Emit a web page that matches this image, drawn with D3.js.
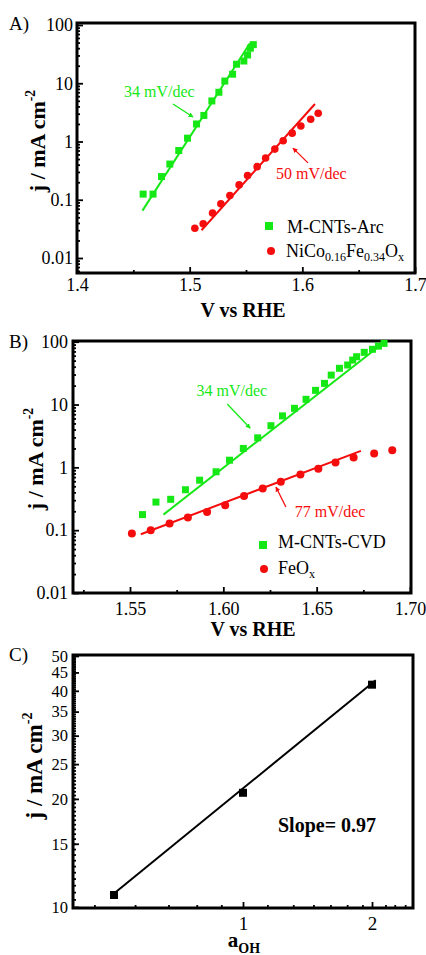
<!DOCTYPE html>
<html lang="en">
<head>
<meta charset="UTF-8">
<title>Tafel plots</title>
<script src="https://d3js.org/d3.v7.min.js"></script>
<style>
  body { margin: 0; background: #fff; }
  svg text { font-family: "Liberation Serif", "Times New Roman", serif; }
</style>
</head>
<body>
<svg id="main" width="426" height="955"></svg>
<script>
// ---- panel A data
const aArcV = [1.4587, 1.4675, 1.4750, 1.4824, 1.4903, 1.4981, 1.5061, 1.5126, 1.5197, 1.5259, 1.5312, 1.5381, 1.5416, 1.5481, 1.5514, 1.5539, 1.5565];
const aArcJ = [0.125, 0.125, 0.25, 0.41, 0.70, 1.14, 2.0, 2.8, 4.97, 7.0, 10.9, 14.3, 21.2, 24.1, 30.6, 40, 46];
const aNiV = [1.5046, 1.5120, 1.5203, 1.5277, 1.5357, 1.5439, 1.5514, 1.5599, 1.5674, 1.5756, 1.5830, 1.5910, 1.5987, 1.6074, 1.6141];
const aNiJ = [0.0325, 0.0386, 0.059, 0.085, 0.118, 0.18, 0.26, 0.37, 0.52, 0.74, 1.03, 1.39, 1.85, 2.41, 3.05];
const aArcFitV = [1.4581, 1.5535], aArcFitJ = [0.065, 48.5];
const aNiFitV = [1.5105, 1.6112], aNiFitJ = [0.030, 4.4];
const aXTicks = [1.4, 1.5, 1.6, 1.7];
const aXMinor = [1.45, 1.55, 1.65];

// ---- panel B data
const bCvdV = [1.5567, 1.5639, 1.5718, 1.5797, 1.5873, 1.5961, 1.6033, 1.6107, 1.6184, 1.6255, 1.6317, 1.6381, 1.6443, 1.6494, 1.6542, 1.6578, 1.6622, 1.6666, 1.6693, 1.6714, 1.6755, 1.6799, 1.6831, 1.6861];
const bCvdJ = [0.177, 0.28, 0.31, 0.44, 0.625, 0.85, 1.30, 2.0, 2.95, 4.6, 6.6, 8.7, 12.1, 16.8, 21.7, 29.4, 37.7, 42.6, 51, 57.7, 67.7, 75.7, 85, 94];
const bFeV = [1.5510, 1.5611, 1.5712, 1.5810, 1.5913, 1.6010, 1.6111, 1.6211, 1.6308, 1.6413, 1.6509, 1.6601, 1.6698, 1.6808, 1.6905];
const bFeJ = [0.0883, 0.0998, 0.128, 0.159, 0.195, 0.25, 0.35, 0.46, 0.59, 0.77, 0.95, 1.20, 1.44, 1.66, 1.88];
const bCvdFitV = [1.5679, 1.6866], bCvdFitJ = [0.177, 100];
const bFeFitV = [1.5558, 1.6737], bFeFitJ = [0.086, 1.83];
const bXTicks = [1.55, 1.60, 1.65, 1.70];
const bXMinor = [1.525, 1.575, 1.625, 1.675];

// log axes of A and B
const jTicks = [0.01, 0.1, 1, 10, 100];
const jLabels = ['0.01', '0.1', '1', '10', '100'];

// ---- panel C data
const cAoh = [0.5, 1, 2];
const cJ = [10.8, 20.8, 41.6];
const cFitAoh = [0.5, 2.04], cFitJ = [10.9, 42.8];
const cXTicks = [1, 2];
const cXMinor = [0.45, 0.56, 0.67, 0.78, 0.89, 1.14, 1.31, 1.46, 1.6, 1.75, 1.9, 2.15, 2.26, 2.39];
const cYTicks = [10, 15, 20, 25, 30, 35, 40, 45, 50];

const green = '#15e815', red = '#f50d0d';
const svg = d3.select('#main');

function logMinor(lo, hi) {
  let out = [];
  for (let p = lo; p < hi; p++)
    for (let k = 2; k <= 9; k++) out.push(k * Math.pow(10, p));
  return out;
}

function panel(box, x, y, o) {
  const g = svg.append('g');
  const tick = (axis, size, vals, fmt, pad) => axis.tickValues(vals).tickFormat(fmt).tickSize(size).tickPadding(pad);
  // only keep minor ticks that fall inside the frame
  const yMinor = o.yMinor.filter(d => y(d) > box.t + 2 && y(d) < box.b - 2);
  const xMinor = o.xMinor.filter(d => x(d) > box.l + 2 && x(d) < box.r - 2);

  g.append('g').attr('transform', `translate(${box.l},0)`)
    .call(d3.axisLeft(y).tickValues(yMinor).tickFormat('').tickSize(-3))
    .call(a => a.select('.domain').remove());
  g.append('g').attr('transform', `translate(0,${box.b})`)
    .call(d3.axisBottom(x).tickValues(xMinor).tickFormat('').tickSize(-3))
    .call(a => a.select('.domain').remove());
  // major ticks
  g.append('g').attr('transform', `translate(${box.l},0)`)
    .call(tick(d3.axisLeft(y), -6, o.yTicks, o.yFmt, o.yPad))
    .call(a => a.select('.domain').remove())
    .attr('font-size', o.yFs || o.tickFs).attr('font-family', null);
  g.append('g').attr('transform', `translate(0,${box.b})`)
    .call(tick(d3.axisBottom(x), -6, o.xTicks, o.xFmt, o.xPad))
    .call(a => a.select('.domain').remove())
    .attr('font-size', o.tickFs).attr('font-family', null);
  g.selectAll('.tick line').attr('stroke-width', 1.8);
  g.selectAll('.tick text').attr('fill', '#000');

  g.append('rect')
    .attr('x', box.l).attr('y', box.t)
    .attr('width', box.r - box.l).attr('height', box.b - box.t)
    .attr('fill', 'none').attr('stroke', '#000').attr('stroke-width', 3);
  return g;
}

function yTitle(g, tx, ty, fs) {
  const t = g.append('text')
    .attr('transform', `translate(${tx},${ty}) rotate(-90)`)
    .attr('text-anchor', 'middle')
    .attr('font-size', fs).attr('font-weight', 'bold');
  t.append('tspan').text('j / mA cm');
  t.append('tspan').attr('font-size', fs * 0.62).attr('dy', -fs * 0.45).text('-2');
}

function xTitle(g, tx, ty) {
  g.append('text').attr('x', tx).attr('y', ty)
    .attr('text-anchor', 'middle')
    .attr('font-size', 20).attr('font-weight', 'bold')
    .text('V vs RHE');
}

function squares(g, x, y, xs, ys, color, size) {
  g.selectAll(null).data(xs).join('rect')
    .attr('x', (d, i) => x(d) - size / 2)
    .attr('y', (d, i) => y(ys[i]) - size / 2)
    .attr('width', size).attr('height', size)
    .attr('fill', color);
}

function circles(g, x, y, xs, ys, color, r) {
  g.selectAll(null).data(xs).join('circle')
    .attr('cx', d => x(d))
    .attr('cy', (d, i) => y(ys[i]))
    .attr('r', r).attr('fill', color);
}

function fit(g, x, y, xs, ys, color, w) {
  const line = d3.line().x(d => x(d[0])).y(d => y(d[1]));
  g.append('path').datum(d3.zip(xs, ys))
    .attr('d', line).attr('fill', 'none')
    .attr('stroke', color).attr('stroke-width', w);
}

const defs = svg.append('defs');
[['g', green], ['r', red]].forEach(([id, c]) => {
  defs.append('marker').attr('id', 'arrow-' + id)
    .attr('viewBox', '0 0 10 10').attr('refX', 9).attr('refY', 5)
    .attr('markerWidth', 5).attr('markerHeight', 5)
    .attr('markerUnits', 'userSpaceOnUse')
    .attr('orient', 'auto')
    .append('path').attr('d', 'M0,0L10,5L0,10z').attr('fill', c);
});

function note(g, x, y, text, at, from, to, color, id) {
  g.append('text').attr('x', x(at[0])).attr('y', y(at[1]))
    .attr('font-size', 16).attr('fill', color).text(text);
  g.append('line')
    .attr('x1', x(from[0])).attr('y1', y(from[1]))
    .attr('x2', x(to[0])).attr('y2', y(to[1]))
    .attr('stroke', color).attr('stroke-width', 1.3)
    .attr('marker-end', `url(#arrow-${id})`);
}

// ================= A
{
  const box = {l: 77, r: 415, t: 23, b: 273};
  const x = d3.scaleLinear().domain([1.4, 1.7]).range([77, 415]);
  const y = d3.scaleLog().domain([0.01, 100]).range([258, 25]);
  const g = panel(box, x, y, {
    yTicks: jTicks, yFmt: (d, i) => jLabels[i], yMinor: logMinor(-3, 2), yPad: 4,
    xTicks: aXTicks, xFmt: d3.format('.1f'), xMinor: aXMinor, xPad: 5, tickFs: 18
  });
  fit(g, x, y, aArcFitV, aArcFitJ, green, 2);
  fit(g, x, y, aNiFitV, aNiFitJ, red, 2);
  squares(g, x, y, aArcV, aArcJ, green, 7);
  circles(g, x, y, aNiV, aNiJ, red, 3.8);
  note(g, x, y, '34 mV/dec', [1.4417, 5.8], [1.4852, 4.4], [1.5030, 2.63], green, 'g');
  note(g, x, y, '50 mV/dec', [1.5766, 0.227], [1.6050, 0.43], [1.5917, 0.77], red, 'r');

  g.append('rect').attr('x', 265).attr('y', 222).attr('width', 8).attr('height', 8).attr('fill', green);
  g.append('text').attr('x', 287).attr('y', 233).attr('font-size', 18).text('M-CNTs-Arc');
  g.append('circle').attr('cx', 271).attr('cy', 251).attr('r', 4).attr('fill', red);
  const t = g.append('text').attr('x', 286).attr('y', 257).attr('font-size', 18);
  t.append('tspan').text('NiCo');
  t.append('tspan').attr('font-size', 12).attr('dy', 4).text('0.16');
  t.append('tspan').attr('dy', -4).text('Fe');
  t.append('tspan').attr('font-size', 12).attr('dy', 4).text('0.34');
  t.append('tspan').attr('dy', -4).text('O');
  t.append('tspan').attr('font-size', 12).attr('dy', 4).text('x');

  g.append('text').attr('x', 9).attr('y', 30).attr('font-size', 19).text('A)');
  yTitle(g, 45, 141, 22);
  xTitle(g, 243, 317);
}

// ================= B
{
  const box = {l: 73, r: 411, t: 341, b: 593};
  const x = d3.scaleLinear().domain([1.55, 1.70]).range([130, 410]);
  const y = d3.scaleLog().domain([0.01, 100]).range([593, 341.7]);
  const g = panel(box, x, y, {
    yTicks: jTicks, yFmt: (d, i) => jLabels[i], yMinor: logMinor(-2, 2), yPad: 5,
    xTicks: bXTicks, xFmt: d3.format('.2f'), xMinor: bXMinor, xPad: 9, tickFs: 18
  });
  fit(g, x, y, bCvdFitV, bCvdFitJ, green, 2);
  fit(g, x, y, bFeFitV, bFeFitJ, red, 2);
  squares(g, x, y, bCvdV, bCvdJ, green, 7);
  circles(g, x, y, bFeV, bFeJ, red, 4);
  note(g, x, y, '34 mV/dec', [1.5856, 13.7], [1.6021, 10.2], [1.6144, 4.2], green, 'g');
  note(g, x, y, '77 mV/dec', [1.6383, 0.162], [1.6335, 0.234], [1.6282, 0.486], red, 'r');

  g.append('rect').attr('x', 259).attr('y', 541).attr('width', 8).attr('height', 8).attr('fill', green);
  g.append('text').attr('x', 278).attr('y', 548).attr('font-size', 18).text('M-CNTs-CVD');
  g.append('circle').attr('cx', 264).attr('cy', 569).attr('r', 4).attr('fill', red);
  const t = g.append('text').attr('x', 278).attr('y', 574).attr('font-size', 18);
  t.append('tspan').text('FeO');
  t.append('tspan').attr('font-size', 12).attr('dy', 4).text('x');

  g.append('text').attr('x', 9).attr('y', 348).attr('font-size', 19).text('B)');
  yTitle(g, 43, 459, 22);
  xTitle(g, 253, 636);
}

// ================= C
{
  const box = {l: 73, r: 413, t: 655, b: 908};
  const x = d3.scaleLog().domain([1, 2]).range([243, 372]);
  const y = d3.scaleLog().domain([10, 50]).range([907, 656]);
  const g = panel(box, x, y, {
    yTicks: cYTicks, yFmt: d3.format('d'), yMinor: d3.range(10.5, 50, 0.5), yPad: 5,
    xTicks: cXTicks, xFmt: d3.format('d'), xMinor: cXMinor, xPad: 9, tickFs: 19, yFs: 16.5
  });
  fit(g, x, y, cFitAoh, cFitJ, '#000', 2);
  squares(g, x, y, cAoh, cJ, '#000', 8);

  g.append('text').attr('x', 278).attr('y', 832)
    .attr('font-size', 20).attr('font-weight', 'bold').text('Slope= 0.97');

  g.append('text').attr('x', 9).attr('y', 661).attr('font-size', 19).text('C)');
  yTitle(g, 42, 766, 23);
  const t = g.append('text').attr('x', 244).attr('y', 947)
    .attr('text-anchor', 'middle').attr('font-size', 21).attr('font-weight', 'bold');
  t.append('tspan').text('a');
  t.append('tspan').attr('font-size', 14).attr('dy', 6).text('OH');
}
</script>
</body>
</html>
